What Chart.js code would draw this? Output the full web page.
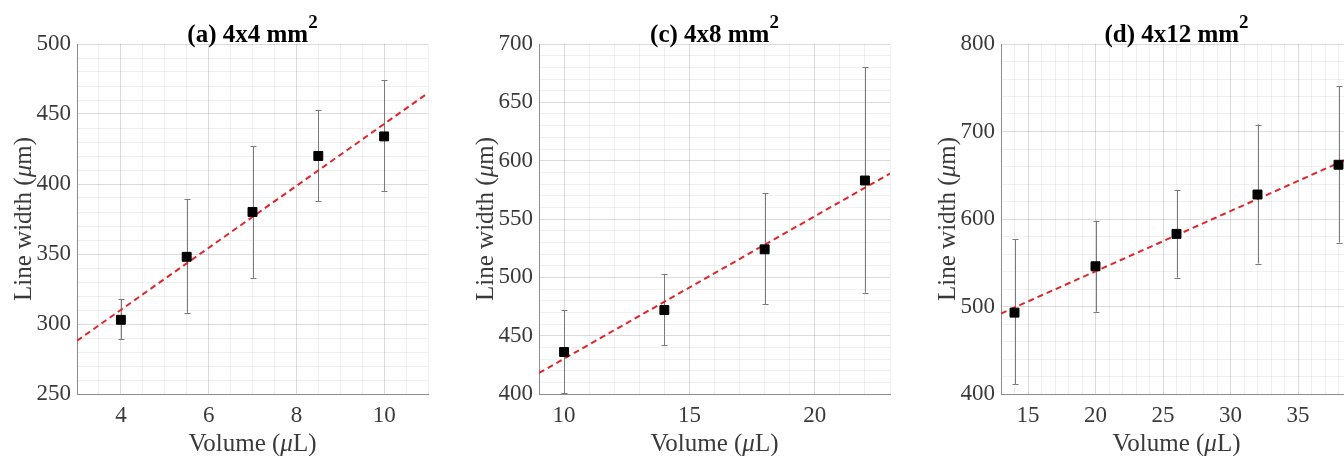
<!DOCTYPE html>
<html lang="en">
<head>
  <meta charset="UTF-8">
  <meta name="viewport" content="width=device-width, initial-scale=1.0">
  <script src="https://cdn.jsdelivr.net/npm/chart.js"></script>
  <title>Line width vs volume</title>
  <style>
    html, body { margin: 0; padding: 0; width: 1344px; height: 456px; overflow: hidden; background: #fff; }
    .panel { position: absolute; top: 0; width: 440px; height: 456px; }
  </style>
</head>

<body>
  <div class="panel" style="left:0px"><canvas id="chartA"></canvas></div>
  <div class="panel" style="left:462px"><canvas id="chartC"></canvas></div>
  <div class="panel" style="left:924px"><canvas id="chartD"></canvas></div>
</body>

<script>
  // (a) 4x4 mm2
  const volA = [4, 5.5, 7, 8.5, 10];
  const widthA = [303, 348, 380, 420, 434];
  const lowA = [289, 308, 333, 388, 395];
  const highA = [318, 389, 427, 453, 474];
  const fitXA = [3, 11];
  const fitYA = [288, 465];

  // (c) 4x8 mm2
  const volC = [10, 14, 18, 22];
  const widthC = [436, 472, 524, 583];
  const lowC = [401, 442, 477, 487];
  const highC = [472, 503, 572, 680];
  const fitXC = [9, 23];
  const fitYC = [418, 589];

  // (d) 4x12 mm2
  const volD = [14, 20, 26, 32, 38];
  const widthD = [493, 546, 583, 628, 662];
  const lowD = [411, 494, 533, 549, 573];
  const highD = [577, 598, 633, 708, 752];
  const fitXD = [13, 39];
  const fitYD = [492, 671];

  const serif = "'Liberation Serif', 'Times New Roman', serif";
  const textGray = '#3a3a3a';

  // draws the vertical error bars with little caps, under the markers
  const errorBars = {
    id: 'errorBars',
    beforeDatasetsDraw(chart) {
      const ctx = chart.ctx;
      const xs = chart.scales.x, ys = chart.scales.y;
      chart.data.datasets.forEach(ds => {
        if (!ds.errLo) return;
        ctx.save();
        ctx.strokeStyle = '#7a7a7a';
        ctx.lineWidth = 1;
        ds.data.forEach((p, i) => {
          const x = Math.round(xs.getPixelForValue(p.x)) + 0.5;
          const y1 = ys.getPixelForValue(ds.errLo[i]);
          const y2 = ys.getPixelForValue(ds.errHi[i]);
          ctx.beginPath();
          ctx.moveTo(x, y1); ctx.lineTo(x, y2);
          ctx.moveTo(x - 3, Math.round(y1) + 0.5); ctx.lineTo(x + 3, Math.round(y1) + 0.5);
          ctx.moveTo(x - 3, Math.round(y2) + 0.5); ctx.lineTo(x + 3, Math.round(y2) + 0.5);
          ctx.stroke();
        });
        ctx.restore();
      });
    }
  };

  // text in pieces (italic mu, superscript 2), centred on cx
  function drawPieces(ctx, parts, cx, y) {
    let total = 0;
    parts.forEach(p => { ctx.font = p.font; p.w = ctx.measureText(p.text).width; total += p.w; });
    let x = cx - total / 2;
    parts.forEach(p => {
      ctx.font = p.font;
      ctx.fillText(p.text, x, y + (p.dy || 0));
      x += p.w;
    });
  }

  const titles = {
    id: 'titles',
    afterDraw(chart, args, opts) {
      const ctx = chart.ctx;
      const a = chart.chartArea;
      const cx = (a.left + a.right) / 2;
      const cy = (a.top + a.bottom) / 2;
      ctx.save();
      ctx.textBaseline = 'alphabetic';
      ctx.textAlign = 'left';

      ctx.fillStyle = '#000';
      drawPieces(ctx, [
        { text: opts.main, font: 'bold 25px ' + serif },
        { text: '2', font: 'bold 19px ' + serif, dy: -14 }
      ], cx, 42);

      ctx.fillStyle = textGray;
      drawPieces(ctx, [
        { text: 'Volume (', font: '25px ' + serif },
        { text: 'μ', font: 'italic 25px ' + serif },
        { text: 'L)', font: '25px ' + serif }
      ], cx, 450.5);

      ctx.translate(31, cy);
      ctx.rotate(-Math.PI / 2);
      drawPieces(ctx, [
        { text: 'Line width (', font: '25px ' + serif },
        { text: 'μ', font: 'italic 25px ' + serif },
        { text: 'm)', font: '25px ' + serif }
      ], 0, 0);
      ctx.restore();
    }
  };

  function gridColor(major) {
    return (c) => {
      if (!c.tick) return 'rgba(0,0,0,0.06)';
      const v = c.tick.value;
      return Math.abs(v / major - Math.round(v / major)) < 1e-6 ? 'rgba(0,0,0,0.14)' : 'rgba(0,0,0,0.06)';
    };
  }

  function labelEvery(major) {
    return (v) => Math.abs(v / major - Math.round(v / major)) < 1e-6 ? String(v) : '';
  }

  function makeChart(id, title, vols, widths, lows, highs, fitX, fitY, xr, yr) {
    new Chart(document.getElementById(id), {
      type: 'scatter',
      data: {
        datasets: [
          {
            label: 'data',
            data: vols.map((v, i) => ({ x: v, y: widths[i] })),
            errLo: lows,
            errHi: highs,
            pointStyle: 'rect',
            pointRadius: 6.3,
            backgroundColor: '#000',
            borderColor: '#000',
            borderWidth: 1,
            order: 0
          },
          {
            label: 'fit',
            type: 'line',
            data: fitX.map((v, i) => ({ x: v, y: fitY[i] })),
            borderColor: '#e0262b',
            borderWidth: 2,
            borderDash: [6, 4],
            pointRadius: 0,
            fill: false,
            order: 1
          }
        ]
      },
      options: {
        responsive: true,
        maintainAspectRatio: false,
        animation: false,
        layout: { padding: { top: 44, right: 12, bottom: 0, left: 0 } },
        plugins: {
          legend: { display: false },
          tooltip: { enabled: false },
          title: { display: false },
          titles: { main: title }
        },
        scales: {
          x: {
            type: 'linear',
            min: xr.min, max: xr.max,
            afterFit: (s) => { s.height = 62; },
            border: { color: '#8c8c8c', width: 1 },
            grid: { color: gridColor(xr.major), drawTicks: false },
            ticks: {
              stepSize: xr.step, autoSkip: false, maxRotation: 0,
              callback: labelEvery(xr.major),
              color: textGray, padding: 8,
              font: { family: serif, size: 23 }
            }
          },
          y: {
            type: 'linear',
            min: yr.min, max: yr.max,
            afterFit: (s) => { s.width = 77; },
            border: { color: '#8c8c8c', width: 1 },
            grid: { color: gridColor(yr.major), drawTicks: false },
            ticks: {
              stepSize: yr.step, autoSkip: false,
              callback: labelEvery(yr.major),
              color: textGray, padding: 6,
              font: { family: serif, size: 23 }
            }
          }
        }
      },
      plugins: [errorBars, titles]
    });
  }

  makeChart('chartA', '(a) 4x4 mm', volA, widthA, lowA, highA, fitXA, fitYA,
    { min: 3, max: 11, step: 0.5, major: 2 }, { min: 250, max: 500, step: 10, major: 50 });
  makeChart('chartC', '(c) 4x8 mm', volC, widthC, lowC, highC, fitXC, fitYC,
    { min: 9, max: 23, step: 1, major: 5 }, { min: 400, max: 700, step: 10, major: 50 });
  makeChart('chartD', '(d) 4x12 mm', volD, widthD, lowD, highD, fitXD, fitYD,
    { min: 13, max: 39, step: 1, major: 5 }, { min: 400, max: 800, step: 20, major: 100 });
</script>
</html>
